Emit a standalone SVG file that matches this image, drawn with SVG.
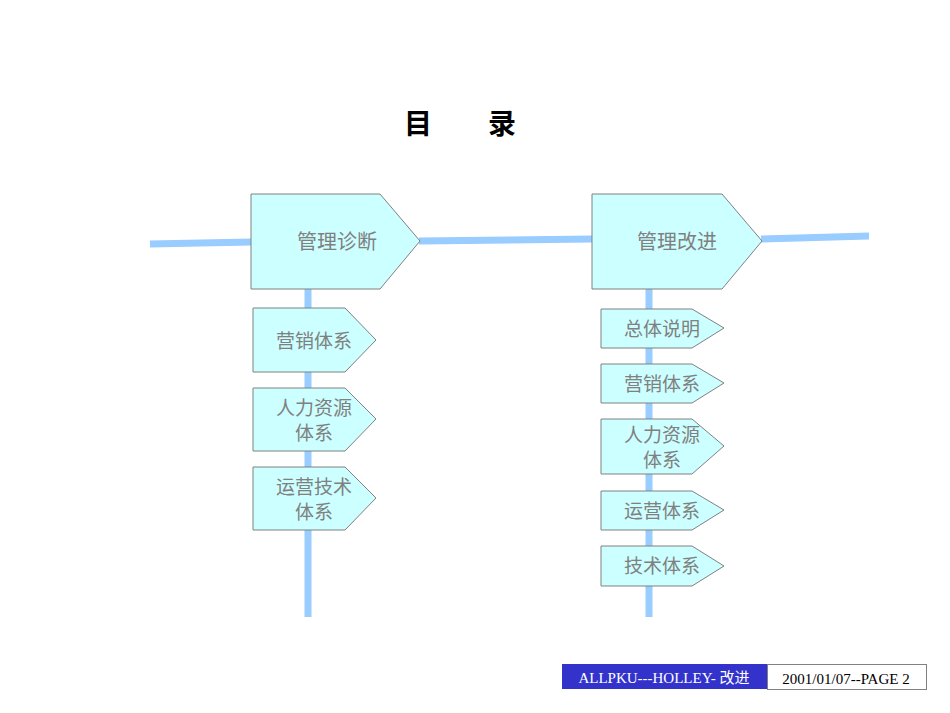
<svg xmlns="http://www.w3.org/2000/svg" width="950" height="713" viewBox="0 0 950 713">
<style>
.n{fill:#ccffff;stroke:#808080;stroke-width:1}
.t{font-family:"Liberation Sans","Noto Sans CJK SC",sans-serif;fill:#808080;text-anchor:middle}
.c{stroke:#99ccff;stroke-width:7;fill:none}
</style>
<rect width="950" height="713" fill="#fff"/>
<text x="460" y="134" font-family="'Noto Sans CJK SC',sans-serif" font-size="28" font-weight="bold" text-anchor="middle">目　　录</text>
<g id="connectors">
<line class="c" x1="150" y1="244" x2="252" y2="242"/>
<line class="c" x1="419" y1="241" x2="593" y2="239"/>
<line class="c" x1="761" y1="239" x2="869" y2="236"/>
<line class="c" x1="308" y1="289" x2="308" y2="617"/>
<line class="c" x1="649" y1="289" x2="649" y2="617"/>
</g>
<g id="n1"><path class="n" d="M251,194H380L420,241L380,289H251Z"/><text class="t" x="337" y="249" font-size="20">管理诊断</text></g>
<g id="n2"><path class="n" d="M592,194H722L762,241L722,289H592Z"/><text class="t" x="677" y="249" font-size="20">管理改进</text></g>
<g id="l1"><path class="n" d="M253,308H345L376,340L345,372H253Z"/><text class="t" x="314" y="348" font-size="19">营销体系</text></g>
<g id="l2"><path class="n" d="M253,388H345L376,419L345,451H253Z"/><text class="t" x="314" y="415" font-size="19">人力资源</text><text class="t" x="314" y="440" font-size="19">体系</text></g>
<g id="l3"><path class="n" d="M253,467H345L376,498L345,530H253Z"/><text class="t" x="314" y="494" font-size="19">运营技术</text><text class="t" x="314" y="519" font-size="19">体系</text></g>
<g id="r1"><path class="n" d="M601,309H692L724,328L692,348H601Z"/><text class="t" x="662" y="336" font-size="19">总体说明</text></g>
<g id="r2"><path class="n" d="M601,364H692L724,383L692,403H601Z"/><text class="t" x="662" y="391" font-size="19">营销体系</text></g>
<g id="r3"><path class="n" d="M601,419H692L724,446L692,474H601Z"/><text class="t" x="662" y="442" font-size="19">人力资源</text><text class="t" x="662" y="467" font-size="19">体系</text></g>
<g id="r4"><path class="n" d="M601,491H692L724,510L692,530H601Z"/><text class="t" x="662" y="518" font-size="19">运营体系</text></g>
<g id="r5"><path class="n" d="M601,546H692L724,566L692,586H601Z"/><text class="t" x="662" y="573" font-size="19">技术体系</text></g>
<g id="footer">
<rect x="562" y="664" width="205" height="25" fill="#3333cc"/>
<text x="664" y="683" font-family="'Liberation Serif','Noto Sans CJK SC',serif" font-size="15" fill="#fff" text-anchor="middle">ALLPKU---HOLLEY- 改进</text>
<rect x="767.5" y="664.5" width="159" height="25" fill="#fff" stroke="#808080"/>
<text x="846" y="684" font-family="'Liberation Serif',serif" font-size="15" fill="#000" text-anchor="middle">2001/01/07--PAGE 2</text>
</g>
</svg>
